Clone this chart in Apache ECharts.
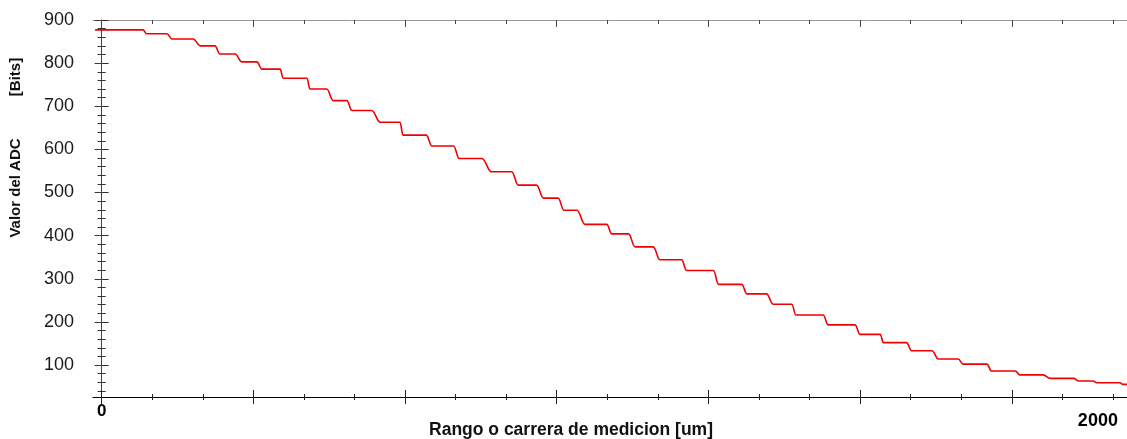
<!DOCTYPE html>
<html>
<head>
<meta charset="utf-8">
<script src="https://cdn.jsdelivr.net/npm/echarts@6.0.0/dist/echarts.min.js"></script>
<style>
    html, body { margin: 0; padding: 0; background: #fff; }
    #chart { width: 1127px; height: 439px; }
</style>
</head>
<body>
<div id="chart"></div>
<script type="text/javascript">
    // escalones: inicio, fin (um) y nivel (bits)
    var stepStart = [-13, 89, 139, 195, 234, 277, 317, 359, 412, 458,
        495, 551, 596, 653, 707, 771, 824, 874, 914, 956,
        1009, 1055, 1104, 1157, 1220, 1276, 1328, 1373, 1437, 1500,
        1546, 1602, 1655, 1704, 1760, 1816, 1876, 1932, 1968, 2020];
    var stepEnd = [82, 129, 181, 224, 264, 307, 353, 406, 445, 485,
        534, 590, 642, 696, 752, 811, 860, 903, 940, 999,
        1042, 1091, 1147, 1210, 1266, 1315, 1365, 1427, 1490, 1540,
        1592, 1642, 1694, 1751, 1807, 1862, 1922, 1961, 2014, 2028];
    var stepLevel = [877, 868, 856, 840, 821, 803, 786, 765, 740, 713,
        690, 663, 633, 608, 579, 548, 517, 487, 459, 426,
        404, 374, 344, 319, 287, 265, 241, 216, 193, 171,
        152, 133, 114, 102, 86, 77, 69, 63, 59, 55];

    var yLabels = [100, 200, 300, 400, 500, 600, 700, 800, 900];
    var yMinor = [40, 60, 80, 120, 140, 160, 180, 220, 240, 260, 280, 320, 340, 360, 380,
        420, 440, 460, 480, 520, 540, 560, 580, 620, 640, 660, 680, 720, 740, 760, 780,
        820, 840, 860, 880];
    var xLabels = [0, 2000];
    var xMajor = [0, 300, 600, 900, 1200, 1500, 1800];
    var xMinor = [100, 200, 400, 500, 700, 800, 1000, 1100, 1300, 1400, 1600, 1700, 1900, 2000];

    var xMin = -17.15, xMax = 2027.9;
    var yMin = 25.8, yMax = 900;

    var points = [];
    for (var i = 0; i < stepLevel.length; i++) {
        points.push([stepStart[i], stepLevel[i]]);
        points.push([stepEnd[i], stepLevel[i]]);
    }

    var font = 'Liberation Sans, Arial, sans-serif';
    var tickColor = '#333';

    function xAx(extra) {
        var a = {
            type: 'value', min: xMin, max: xMax, position: 'bottom',
            axisLine: { show: false }, axisTick: { show: false },
            axisLabel: { show: false }, splitLine: { show: false }
        };
        for (var k in extra) a[k] = extra[k];
        return a;
    }
    function yAx(extra) {
        var a = {
            type: 'value', min: yMin, max: yMax, position: 'left',
            axisLine: { show: false }, axisTick: { show: false },
            axisLabel: { show: false }, splitLine: { show: false }
        };
        for (var k in extra) a[k] = extra[k];
        return a;
    }
    function yTicks(values, len, inside) {
        return yAx({ axisTick: { show: true, inside: inside, customValues: values, length: len,
            lineStyle: { color: tickColor, width: 1 } } });
    }

    var myChart = echarts.init(document.getElementById('chart'));
    var option = {
        animation: false,
        backgroundColor: '#fff',
        grid: { left: 93, right: 0, top: 20, bottom: 42, containLabel: false },
        xAxis: [
            xAx({
                axisLine: { show: true, lineStyle: { color: '#000', width: 1 } },
                axisLabel: {
                    show: true, customValues: xLabels, margin: 6,
                    formatter: function (v) { return v === 0 ? '{a|0}' : '{b|2000}'; },
                    rich: {
                        a: { fontFamily: font, fontSize: 17, fontWeight: 'bold', color: '#000' },
                        b: { fontFamily: font, fontSize: 18, fontWeight: 'bold', color: '#000', padding: [9, 30, 0, 0] }
                    }
                }
            }),
            xAx({ offset: -7, axisTick: { show: true, customValues: xMajor, length: 14, lineStyle: { color: '#222' } } }),
            xAx({ offset: -3, axisTick: { show: true, customValues: xMinor, length: 6, lineStyle: { color: '#222' } } }),
            xAx({
                position: 'top',
                axisLine: { show: true, lineStyle: { color: '#999', width: 1 } },
                axisTick: { show: true, inside: true, customValues: xMajor, length: 7, lineStyle: { color: '#444' } }
            }),
            xAx({ position: 'top', axisTick: { show: true, inside: true, customValues: xMinor, length: 4, lineStyle: { color: '#444' } } })
        ],
        yAxis: [
            yAx({
                axisLine: { show: true, lineStyle: { color: '#444', width: 1 } },
                axisTick: { show: true, customValues: yLabels, length: 7, lineStyle: { color: tickColor, width: 1 } },
                axisLabel: {
                    show: true, customValues: yLabels, margin: 19,
                    fontFamily: font, fontSize: 18, color: '#1a1a1a'
                }
            }),
            yTicks(yLabels, 7, true),
            yTicks(yMinor, 4, false),
            yTicks(yMinor, 4, true),
            yAx({ position: 'right', axisTick: { show: true, inside: true, customValues: yLabels, length: 4, lineStyle: { color: '#444' } } })
        ],
        graphic: [
            {
                type: 'text', x: 16, y: 188, rotation: Math.PI / 2,
                style: { text: 'Valor del ADC', fontFamily: font, fontSize: 15, fontWeight: 'bold',
                    fill: '#111', align: 'center', verticalAlign: 'middle' }
            },
            {
                type: 'text', x: 16, y: 77, rotation: Math.PI / 2,
                style: { text: '[Bits]', fontFamily: font, fontSize: 15, fontWeight: 'bold',
                    fill: '#111', align: 'center', verticalAlign: 'middle' }
            },
            {
                type: 'text', x: 571, y: 421,
                style: { text: 'Rango o carrera de medicion [um]', fontFamily: font, fontSize: 17.5, fontWeight: 'bold',
                    fill: '#111', align: 'center', verticalAlign: 'top' }
            }
        ],
        series: [
            {
                name: 'ADC',
                type: 'line',
                xAxisIndex: 0,
                yAxisIndex: 0,
                data: points,
                showSymbol: false,
                clip: true,
                smooth: 0.4,
                smoothMonotone: 'x',
                lineStyle: { color: '#f00000', width: 1.6 }
            }
        ]
    };
    myChart.setOption(option);
</script>
</body>
</html>
